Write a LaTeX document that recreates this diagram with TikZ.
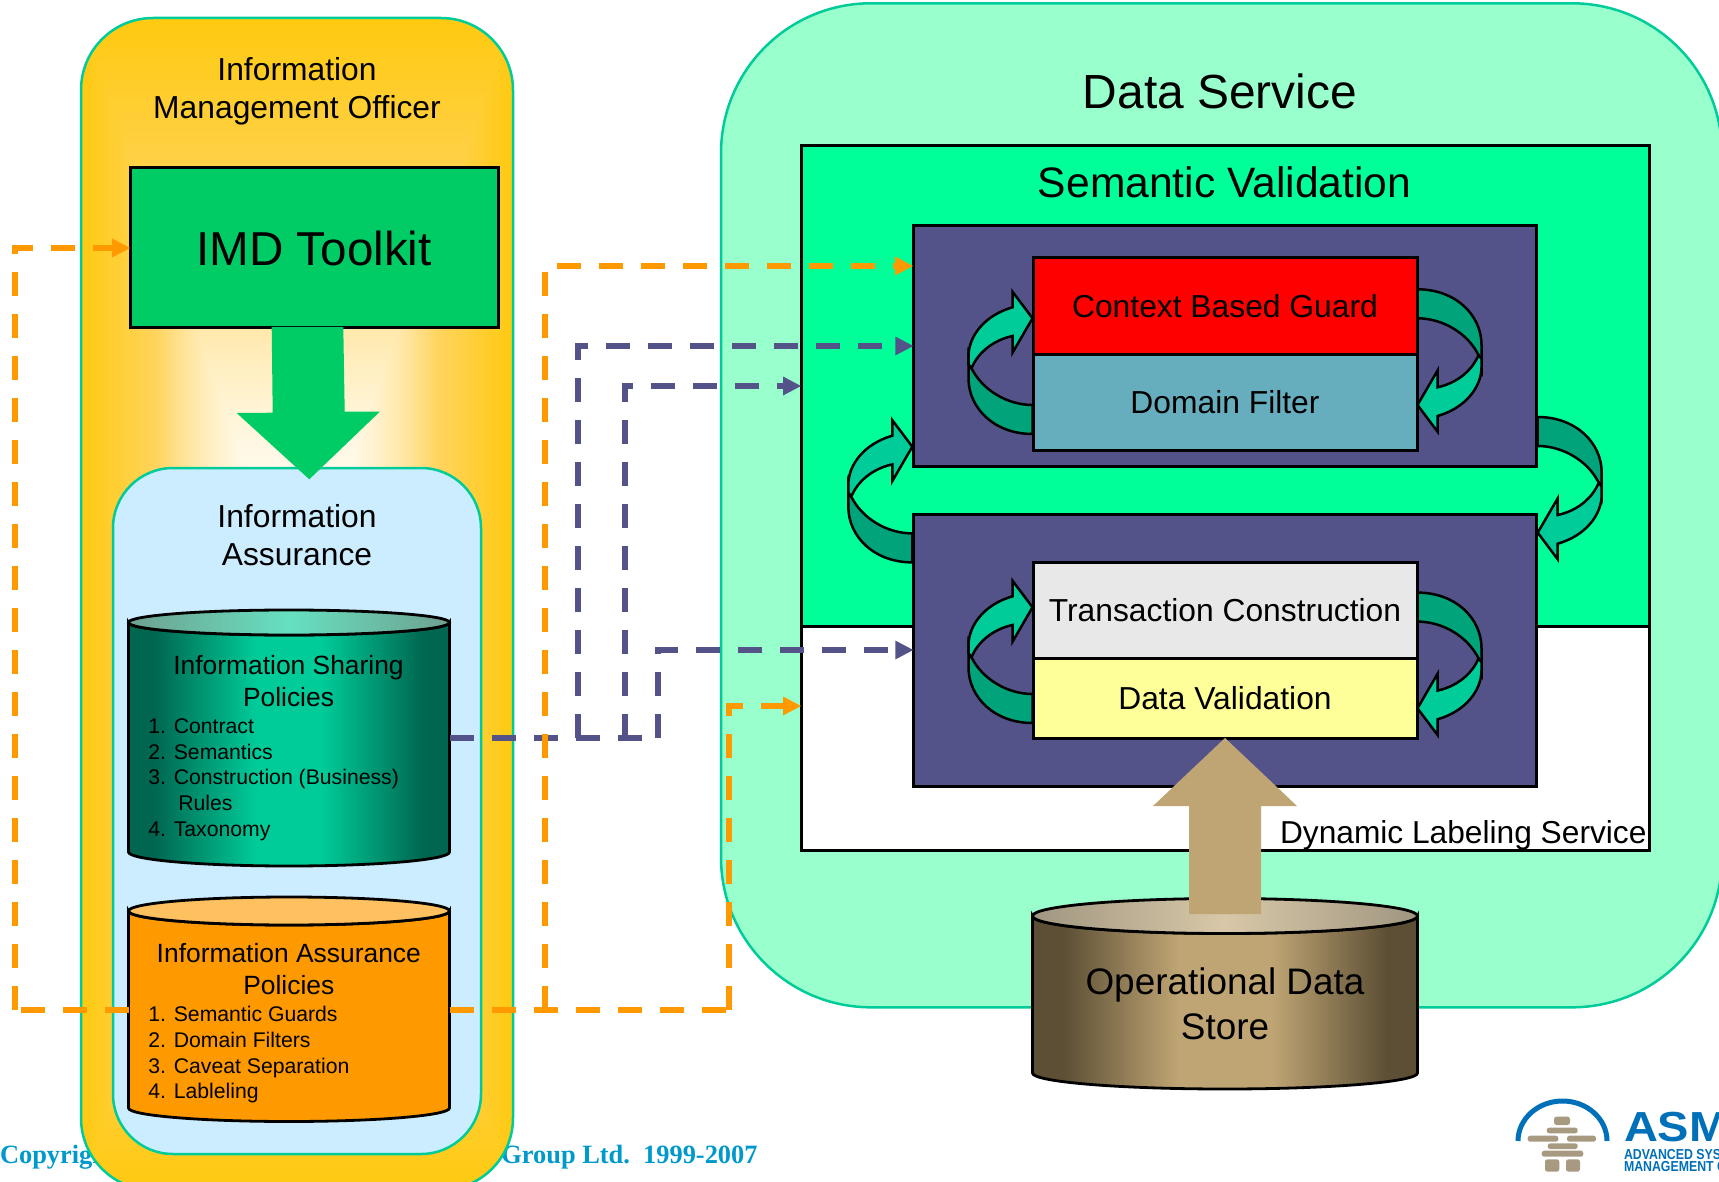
\documentclass[tikz,border=0pt]{standalone}
\usepackage{fontspec}
\usepackage{graphicx}
\setmainfont{Liberation Sans}
\newfontfamily\serifcopy{Liberation Serif}
\usetikzlibrary{arrows.meta}
\definecolor{bandline}{HTML}{00CC99}
\definecolor{mintbig}{HTML}{99FFCC}
\definecolor{semgreen}{HTML}{00FF99}
\definecolor{skyfill}{HTML}{CCECFF}
\definecolor{imdgreen}{HTML}{00CC66}
\definecolor{slate}{HTML}{535389}
\definecolor{guardred}{HTML}{FF0000}
\definecolor{filterteal}{HTML}{66AEBD}
\definecolor{txgrey}{HTML}{E8E8E8}
\definecolor{validyellow}{HTML}{FFFF99}
\definecolor{archdark}{HTML}{00A37A}
\definecolor{archlight}{HTML}{00CC99}
\definecolor{dashorange}{HTML}{FF9900}
\definecolor{tan}{HTML}{BFA574}
\definecolor{copyblue}{HTML}{0099CC}
\definecolor{logoblue}{HTML}{0070B8}
\definecolor{stone}{HTML}{A89A80}
\definecolor{tealedge}{HTML}{006650}
\definecolor{tealtopedge}{HTML}{6FA090}
\definecolor{tealtopmid}{HTML}{66E0C0}
\definecolor{orangetop}{HTML}{FFC060}
\definecolor{brownedge}{HTML}{5C4F35}
\definecolor{browntopedge}{HTML}{A09680}
\definecolor{browntopmid}{HTML}{D8C8A8}
\pgfdeclarefunctionalshading{rectglow}{\pgfpoint{-50bp}{-50bp}}{\pgfpoint{50bp}{50bp}}{}{
  abs 25 div exch abs 25 div 2 copy lt {exch} if pop
  dup 0.65 gt
  { 0.65 sub 0.35 div dup -0.04 mul 0.83 add exch -0.31 mul 0.37 add 1 3 1 roll }
  { 0.65 div dup mul dup -0.17 mul 1 add exch -0.63 mul 1 add 1 3 1 roll }
  ifelse
}
\pgfdeclarehorizontalshading{tealbody}{100bp}{color(0bp)=(tealedge); color(29bp)=(tealedge); color(45bp)=(archlight); color(55bp)=(archlight); color(71bp)=(tealedge); color(100bp)=(tealedge)}
\pgfdeclarehorizontalshading{brownbody}{100bp}{color(0bp)=(brownedge); color(29bp)=(brownedge); color(44bp)=(tan); color(56bp)=(tan); color(71bp)=(brownedge); color(100bp)=(brownedge)}
\newcommand{\fs}[2]{\fontsize{#1}{#2}\selectfont}
% x1 x2 ytop ybot rytop rybot bodystyle topstyle
\newcommand{\drumshape}[8]{%
  \path[draw=black,line width=2.8pt,#7] (#1,#3) -- (#1,#4)
    arc[start angle=180,end angle=0,x radius={(#2-#1)/2},y radius=#6] -- (#2,#3)
    arc[start angle=0,end angle=180,x radius={(#2-#1)/2},y radius=#5] -- cycle;
  \path[draw=black,line width=2.8pt,#8] ({(#1+#2)/2},#3) ellipse[x radius={(#2-#1)/2},y radius=#5];
}
\tikzset{
  panel/.style={draw=bandline,line width=2.5pt,inner sep=0pt,outer sep=0pt},
  box/.style={draw=black,line width=3pt,inner sep=0pt,outer sep=0pt,align=center,text=black},
  label/.style={inner sep=0pt,outer sep=0pt,align=center,text=black},
  listing/.style={inner sep=0pt,outer sep=0pt,align=left,text=black,font=\fs{21.2}{25.7}},
  titlefont/.style={font=\fs{31.8}{38}},
  drumtitle/.style={font=\fs{26.4}{32}},
  odash/.style={draw=dashorange,line width=6pt,dash pattern=on 24pt off 18pt,
     -{Triangle[length=18pt,width=19pt,line width=0pt]}},
  odashplain/.style={draw=dashorange,line width=6pt,dash pattern=on 24pt off 18pt},
  pdash/.style={draw=slate,line width=6pt,dash pattern=on 24pt off 18pt,
     -{Triangle[length=18pt,width=19pt,line width=0pt]}},
  pdashplain/.style={draw=slate,line width=6pt,dash pattern=on 24pt off 18pt},
  arcline/.style={draw=black,line width=2.5pt,line join=miter},
  stonebit/.style={fill=stone,rounded corners=2.5pt},
  looparrow/.pic={
    \path[arcline,fill=archdark] (-61,50) .. controls (-50,72) and (-25,86.7) .. (0,86.7)
       -- (0,115.7) .. controls (-38,115.7) and (-64,90) .. (-64,60) -- (-64,38) -- cycle;
    \path[arcline,fill=archlight] (0,0) -- (-20,-26.6) -- (-20,-11)
       .. controls (-48,-3) and (-64,18) .. (-64,38) -- (-64,46) -- (-61,50)
       .. controls (-55,35) and (-40,22) .. (-20,17.7) -- (-20,34.4) -- cycle;
  }
}
\begin{document}
\begin{tikzpicture}[x=1pt,y=-1pt]
\useasboundingbox (0,0) rectangle (1719,1182);
\fill[white] (0,0) rectangle (1719,1182);
\clip (0,0) rectangle (1719,1182);

% copyright lies behind the officer panel
\node[label,anchor=base west,text=copyblue,font=\serifcopy\bfseries\fs{26.4}{30}] (copyleft) at (0,1163) {Copyright};
\node[label,anchor=base east,text=copyblue,font=\serifcopy\bfseries\fs{26.4}{30}] (copyright) at (757.6,1163) {Group Ltd.\ \ 1999-2007};

% officer panel
\node[panel,shading=rectglow,rounded corners=72pt,minimum width=432pt,minimum height=1172pt] (officer) at (297,604) {};
\node[label,titlefont] (officertitle) at (297,91) {Information\\Management Officer};
\node[panel,fill=skyfill,rounded corners=60pt,minimum width=368pt,minimum height=686pt] (assurance) at (297,811) {};
\node[label,titlefont] (assurancetitle) at (297,535) {Information\\Assurance};

% IMD toolkit and its arrow
\node[box,fill=imdgreen,minimum width=368pt,minimum height=160pt,font=\fs{47.6}{50}] (imd) at (314,248) {IMD Toolkit};
\path[fill=imdgreen] (271.7,327) -- (272.7,412.7) -- (236.7,413) -- (309.3,479.3) -- (380,411.5) -- (344.7,411.5) -- (343.3,327) -- cycle;

% information sharing drum
\drumshape{128.5}{449.5}{622.5}{852}{12.5}{14}{shading=tealbody}{left color=tealtopedge,right color=tealtopedge,middle color=tealtopmid}
\node[label,drumtitle] (sharingtitle) at (288.5,681) {Information Sharing\\Policies};
\node[listing,anchor=north west] (sharinglist) at (148.3,718.5) {1. Contract\\2. Semantics\\3. Construction (Business)\\\hspace*{30pt}Rules\\4. Taxonomy};

% information assurance drum
\drumshape{128.5}{449.5}{911}{1108}{14}{13.5}{fill=dashorange}{fill=orangetop}
\node[label,drumtitle] (policytitle) at (288.8,969) {Information Assurance\\Policies};
\node[listing,anchor=north west] (policylist) at (148.3,1006.5) {1. Semantic Guards\\2. Domain Filters\\3. Caveat Separation\\4. Lableling};

% data service
\node[panel,fill=mintbig,rounded corners=150pt,minimum width=1001pt,minimum height=1004pt] (dataservice) at (1221.5,505.3) {};
\node[label,font=\fs{47.9}{52}] (dstitle) at (1220,91) {Data Service};
\node[box,fill=white,minimum width=848pt,minimum height=224pt] (labeling) at (1225,738) {};
\node[box,fill=semgreen,minimum width=848pt,minimum height=480pt] (semantic) at (1225,386) {};
\node[label,font=\fs{42.6}{46}] (semtitle) at (1224.6,182) {Semantic Validation};
\node[label,anchor=base east,font=\fs{31.7}{36}] (labeltitle) at (1646.5,843) {Dynamic Labeling Service};

\node[box,fill=slate,minimum width=623.5pt,minimum height=240pt] (upper) at (1225,346) {};
\node[box,fill=slate,minimum width=623.5pt,minimum height=272pt] (lower) at (1225,650) {};
\node[box,fill=guardred,minimum width=384pt,minimum height=96pt,titlefont] (guard) at (1225,306) {\raisebox{-1pt}{Context Based Guard}};
\node[box,fill=filterteal,minimum width=384pt,minimum height=96pt,titlefont] (filter) at (1225,402) {\raisebox{-1pt}{Domain Filter}};
\node[box,fill=txgrey,minimum width=384pt,minimum height=96pt,titlefont] (transaction) at (1225,610) {\raisebox{-1pt}{Transaction Construction}};
\node[box,fill=validyellow,minimum width=384pt,minimum height=80pt,titlefont] (validation) at (1225,698) {\raisebox{-1pt}{Data Validation}};

% loop arrows
\pic at (1032.5,318.3) {looparrow};
\pic[rotate=180] at (1417.5,405) {looparrow};
\pic at (912.3,446.7) {looparrow};
\pic[rotate=180] at (1537.7,532.7) {looparrow};
\pic at (1032.5,607.3) {looparrow};
\pic[rotate=180] at (1417.5,708.3) {looparrow};

% operational data store
\drumshape{1032.5}{1417.5}{916}{1073}{17.5}{16}{shading=brownbody}{left color=browntopedge,right color=browntopedge,middle color=browntopmid}
\node[label,font=\fs{36.9}{45}] (storetitle) at (1225,1004) {Operational Data\\Store};
\path[fill=tan] (1225,738) -- (1297,806) -- (1261,806) -- (1261,914) -- (1189,914) -- (1189,806) -- (1153,806) -- cycle;

% dashed connectors
\coordinate (isright) at (450,737.7);
\coordinate (pv1) at (578,737.7);
\coordinate (pv2) at (625,737.7);
\coordinate (pv3) at (657.5,737.7);
\draw[pdashplain] (isright) -- (pv3);
\draw[pdash] (pv3) |- (lower.west);
\draw[pdash] (pv1) |- (upper.west);
\draw[pdash] (pv2) |- (semantic.west);

\coordinate (iaright) at (449.5,1010);
\coordinate (ialeft) at (128.5,1010);
\coordinate (ov1) at (545,1010);
\coordinate (ov2) at (728.6,1010);
\coordinate (ovl) at (15.3,1010);
\coordinate (guardin) at (913,266);
\coordinate (labelin) at (801,706);
\draw[odashplain] (iaright) -- (ov2);
\draw[odash] (ov2) |- (labelin);
\draw[odash] (ov1) |- (guardin);
\draw[odashplain] (ialeft) -- (ovl);
\draw[odash] (ovl) |- (imd.west);

% logo
\path[draw=logoblue,line width=5pt] (1518,1141) arc[start angle=180,end angle=0,x radius=44.5,y radius=-40];
\fill[stonebit] (1554,1116.7) rectangle (1570,1125);
\fill[stonebit] (1546.7,1127.7) rectangle (1577.7,1133.3);
\fill[stonebit] (1527.7,1135.7) rectangle (1558.3,1141.7);
\fill[stonebit] (1567,1135.7) rectangle (1596,1141.7);
\fill[stonebit] (1547.7,1143.3) rectangle (1577.7,1149);
\fill[stonebit] (1541.7,1150.7) rectangle (1583.3,1156.7);
\fill[stonebit] (1545,1159.3) rectangle (1559.3,1171.7);
\fill[stonebit] (1566,1159.3) rectangle (1580,1171.7);
\node[label,anchor=base west,text=logoblue,font=\bfseries\fs{42}{44}] (logoword) at (1624,1141.7) {\scalebox{1.12}[1]{ASM}};
\node[label,anchor=base west,text=logoblue,font=\bfseries\fs{14.5}{15}] (logoline1) at (1624,1159.5) {\scalebox{0.85}[1]{ADVANCED SYS}};
\node[label,anchor=base west,text=logoblue,font=\bfseries\fs{14.5}{15}] (logoline2) at (1624,1171.5) {\scalebox{0.85}[1]{MANAGEMENT G}};
\end{tikzpicture}
\end{document}
